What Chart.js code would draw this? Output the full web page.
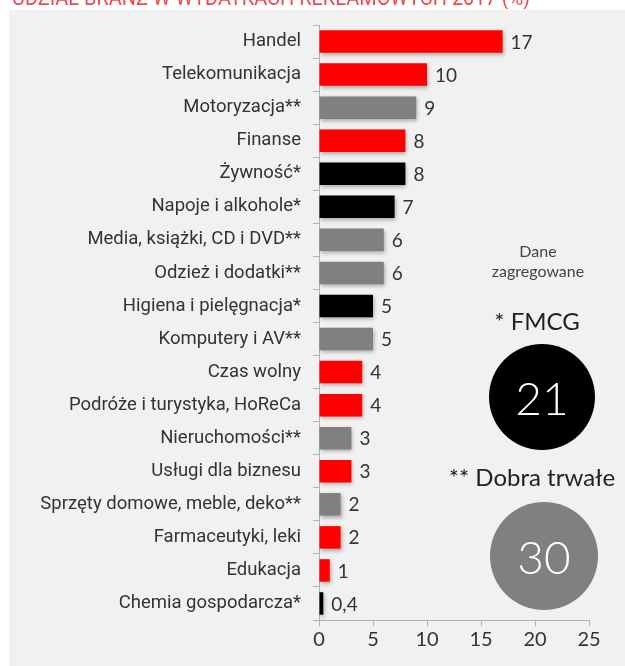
<!DOCTYPE html>
<html>
<head>
<meta charset="utf-8">
<script src="https://cdn.jsdelivr.net/npm/chart.js@4/dist/chart.umd.min.js"></script>
<style>
  html, body { margin: 0; padding: 0; background: #ffffff; }
  #wrap { width: 625px; height: 666px; position: relative; }
</style>
</head>
<body>
<div id="wrap"><canvas id="c" width="625" height="666"></canvas></div>
<script>
// Branże i ich udziały (%)
const categories = [
  'Handel', 'Telekomunikacja', 'Motoryzacja**', 'Finanse', 'Żywność*',
  'Napoje i alkohole*', 'Media, książki, CD i DVD**', 'Odzież i dodatki**',
  'Higiena i pielęgnacja*', 'Komputery i AV**', 'Czas wolny',
  'Podróże i turystyka, HoReCa', 'Nieruchomości**', 'Usługi dla biznesu',
  'Sprzęty domowe, meble, deko**', 'Farmaceutyki, leki', 'Edukacja',
  'Chemia gospodarcza*'
];
const shares = [17, 10, 9, 8, 8, 7, 6, 6, 5, 5, 4, 4, 3, 3, 2, 2, 1, 0.4];
// grupa: 'other' | 'fmcg' (*) | 'durable' (**)
const groups = [
  'other', 'other', 'durable', 'other', 'fmcg', 'fmcg', 'durable', 'durable',
  'fmcg', 'durable', 'other', 'other', 'durable', 'other', 'durable', 'other',
  'other', 'fmcg'
];
const xTicks = [0, 5, 10, 15, 20, 25];
const groupTotals = { fmcg: 21, durable: 30 };
const titleText = 'UDZIAŁ BRANŻ W WYDATKACH REKLAMOWYCH 2017 (%)';

const groupColors = { other: '#ff0000', fmcg: '#000000', durable: '#808080' };

const panelPlugin = {
  id: 'panel',
  beforeDraw(chart) {
    const ctx = chart.ctx;
    ctx.save();
    ctx.fillStyle = '#ffffff';
    ctx.fillRect(0, 0, chart.width, chart.height);
    ctx.fillStyle = '#f1f1f1';
    ctx.fillRect(9, 10, chart.width - 9, chart.height - 10);
    ctx.beginPath();
    ctx.rect(0, 0, chart.width, 9);
    ctx.clip();
    ctx.fillStyle = '#f24a4a';
    ctx.font = '22px Roboto';
    ctx.textBaseline = 'alphabetic';
    ctx.fillText(titleText, 12, 5, 518);
    ctx.restore();
  }
};

const barShadowAndLabels = {
  id: 'barShadowAndLabels',
  beforeDatasetsDraw(chart) {
    const ctx = chart.ctx;
    ctx.save();
    ctx.shadowColor = 'rgba(0,0,0,0.30)';
    ctx.shadowBlur = 4;
    ctx.shadowOffsetX = 1;
    ctx.shadowOffsetY = 2;
  },
  afterDatasetsDraw(chart) {
    const ctx = chart.ctx;
    ctx.restore();
    ctx.save();
    ctx.fillStyle = '#333333';
    ctx.font = '19px Lato';
    ctx.textBaseline = 'middle';
    ctx.textAlign = 'left';
    const meta = chart.getDatasetMeta(0);
    meta.data.forEach((bar, i) => {
      const txt = String(shares[i]).replace('.', ',');
      ctx.fillText(txt, bar.x + 8, bar.y + 1);
    });
    ctx.restore();
  }
};

const sidePlugin = {
  id: 'side',
  afterDraw(chart) {
    const ctx = chart.ctx;
    ctx.save();
    ctx.textAlign = 'center';
    ctx.textBaseline = 'middle';
    ctx.fillStyle = '#444444';
    ctx.font = '16px Lato';
    ctx.fillText('Dane', 538, 252);
    ctx.fillText('zagregowane', 538, 272);
    ctx.fillStyle = '#222222';
    ctx.font = '24px Lato';
    ctx.fillText('* FMCG', 537, 322);
    ctx.beginPath();
    ctx.arc(542, 397, 53, 0, Math.PI * 2);
    ctx.fillStyle = groupColors.fmcg;
    ctx.fill();
    ctx.fillStyle = '#ffffff';
    ctx.font = '300 46px Lato';
    ctx.fillText(String(groupTotals.fmcg), 542, 400);
    ctx.fillStyle = '#222222';
    ctx.font = '24px Lato';
    ctx.fillText('** Dobra trwałe', 532, 478);
    ctx.beginPath();
    ctx.arc(544, 556, 54, 0, Math.PI * 2);
    ctx.fillStyle = groupColors.durable;
    ctx.fill();
    ctx.fillStyle = '#ffffff';
    ctx.font = '300 46px Lato';
    ctx.fillText(String(groupTotals.durable), 544, 559);
    ctx.restore();
  }
};

new Chart(document.getElementById('c'), {
  type: 'bar',
  data: {
    labels: categories,
    datasets: [{
      data: shares,
      backgroundColor: groups.map(g => groupColors[g]),
      borderWidth: 0,
      barPercentage: 0.68,
      categoryPercentage: 1.0
    }]
  },
  options: {
    indexAxis: 'y',
    responsive: false,
    animation: false,
    devicePixelRatio: 1,
    layout: { padding: { left: 0, right: 36, top: 25, bottom: 0 } },
    plugins: { legend: { display: false }, tooltip: { enabled: false } },
    scales: {
      x: {
        min: 0, max: 25,
        afterFit(scale) { scale.height = 46; },
        afterBuildTicks(scale) { scale.ticks = xTicks.map(v => ({ value: v })); },
        grid: { drawOnChartArea: false, drawTicks: true, tickLength: 6, color: '#aab4be' },
        border: { color: '#aab4be', width: 1 },
        ticks: { color: '#333333', font: { family: 'Lato', size: 20 }, padding: 2 }
      },
      y: {
        afterFit(scale) { scale.width = 319; },
        grid: { drawOnChartArea: false, drawTicks: true, tickLength: 6, color: '#aab4be', offset: true },
        border: { color: '#aab4be', width: 1 },
        ticks: { color: '#333333', font: { family: 'Roboto', size: 18.5 }, padding: 12, autoSkip: false }
      }
    }
  },
  plugins: [panelPlugin, barShadowAndLabels, sidePlugin]
});
</script>
</body>
</html>
